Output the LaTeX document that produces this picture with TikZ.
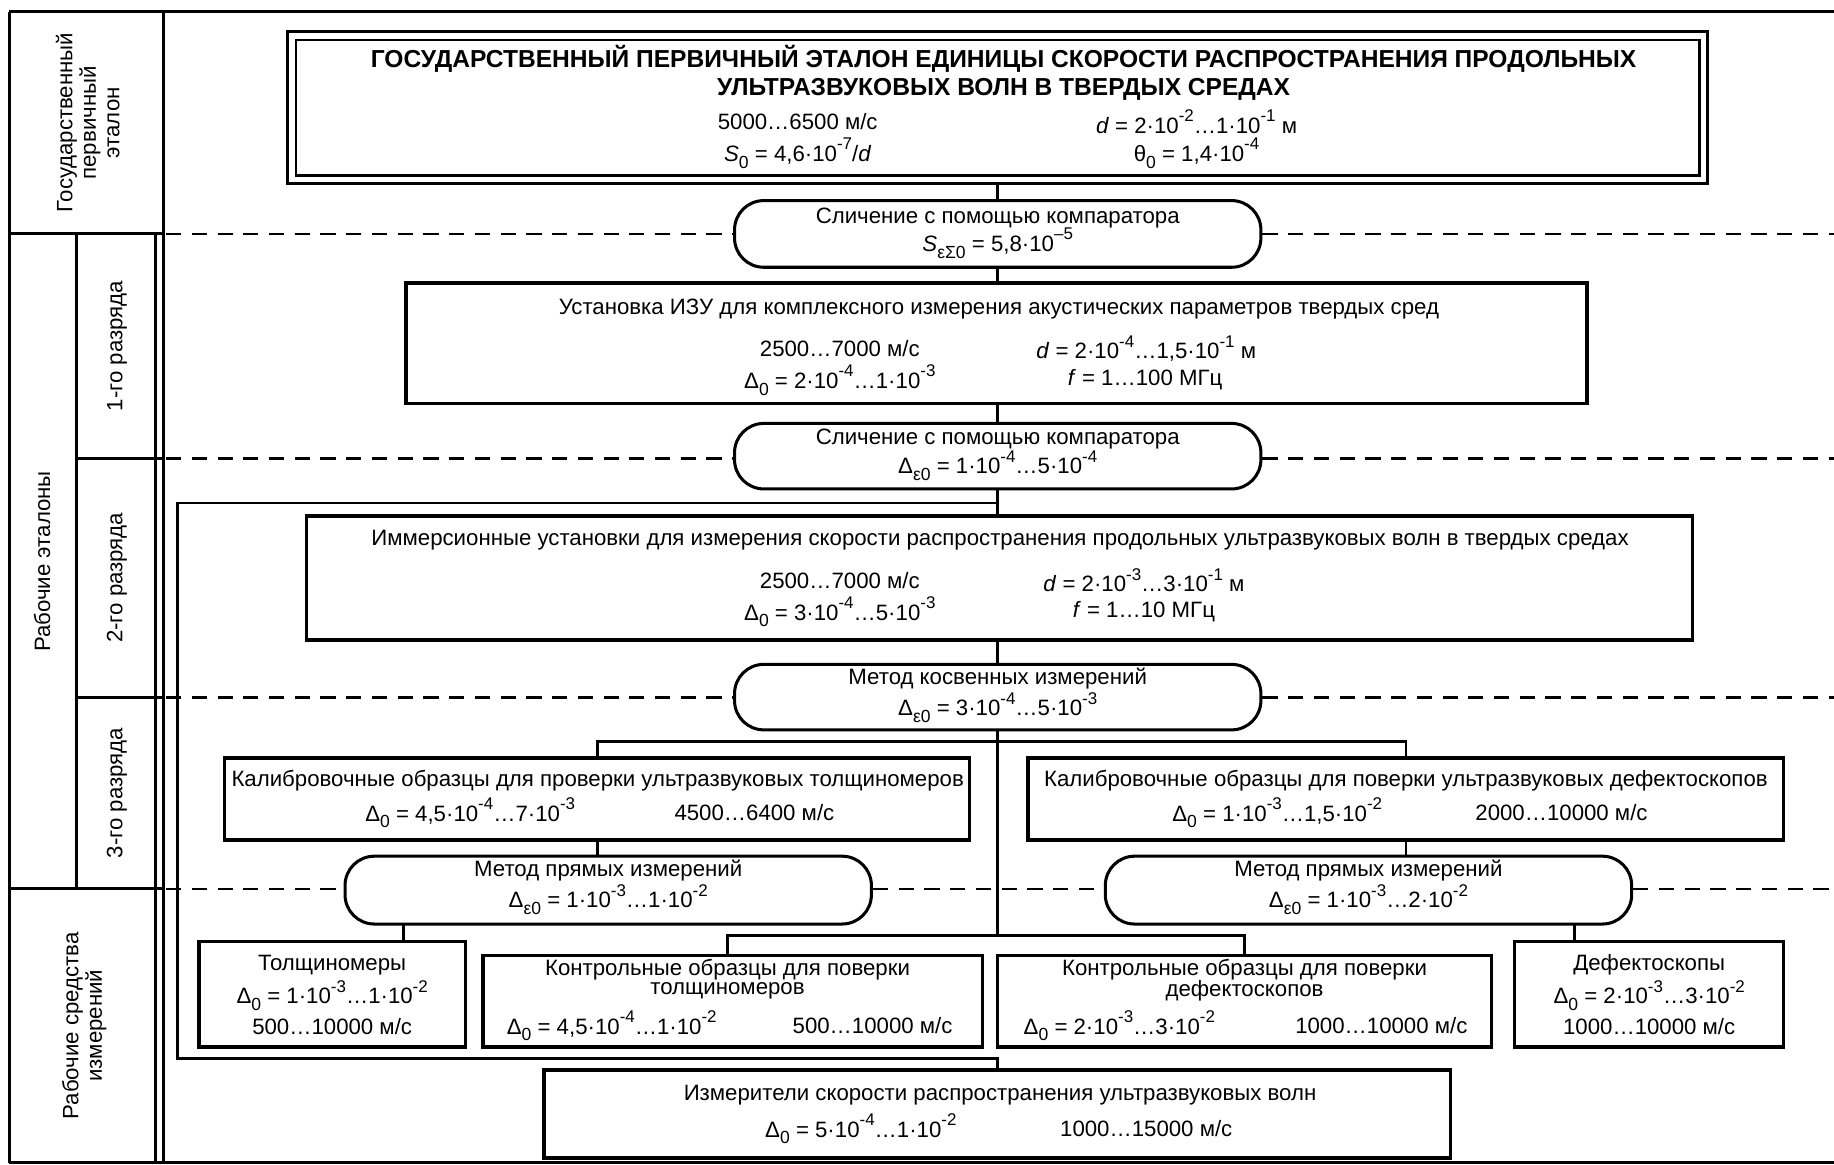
\documentclass[tikz,border=0pt]{standalone}
\usepackage{fontspec}
\setmainfont{Liberation Sans}
\newcommand{\supx}[1]{\raisebox{0.52em}{\fontsize{14.5}{14.5}\selectfont #1}}
\newcommand{\subx}[1]{\raisebox{-0.3em}{\fontsize{15}{15}\selectfont #1}}
\newcommand{\Dz}{Δ\subx{0}}
\newcommand{\Dez}{Δ\subx{ε0}}
\begin{document}
\begin{tikzpicture}[x=1pt,y=-1pt,
  frameline/.style={line width=2.6pt},
  boxst/.style={draw, line width=3pt, rectangle, inner sep=0pt},
  pillst/.style={draw, line width=2.6pt, rectangle, rounded corners=25pt, inner sep=0pt},
  conn/.style={line width=2.4pt},
  dashline/.style={line width=2.4pt, dash pattern=on 13pt off 9pt},
  txt/.style={inner sep=0pt, font=\fontsize{19}{23}\selectfont, align=center},
  ttl/.style={inner sep=0pt, font=\fontsize{21}{24}\selectfont\bfseries, align=center},
  side/.style={inner sep=0pt, rotate=90, font=\fontsize{19}{20}\selectfont, align=center},
]
\useasboundingbox (0,0) rectangle (1568,996);

% ---------- frame / left table ----------
\draw[frameline] (8,10) -- (1568,10);
\draw[frameline] (8,994) -- (1568,994);
\draw[frameline] (8,10) -- (8,994);
\draw[frameline] (140,10) -- (140,994);
\draw[frameline] (133,200) -- (133,994);
\draw[frameline] (8,200) -- (140,200);
\draw[frameline] (8,760) -- (140,760);
\draw[frameline] (65,200) -- (65,760);
\draw[frameline] (65,392) -- (140,392);
\draw[frameline] (65,596) -- (140,596);

\node[side] (lgpe) at (75,105) {Государственный\\первичный\\эталон};
\node[side] (lre) at (36,480) {Рабочие эталоны};
\node[side] (lr1) at (100,296) {1-го разряда};
\node[side] (lr2) at (100,494) {2-го разряда};
\node[side] (lr3) at (100,678) {3-го разряда};
\node[side] (lrsi) at (72,877) {Рабочие средства\\измерений};

% ---------- nodes ----------
\node[boxst, minimum width=1214pt, minimum height=130pt] (gpe) at (853,92) {};
\node[draw, line width=1.8pt, inner sep=0pt, minimum width=1200pt, minimum height=116pt] (gpein) at (853,92) {};
\node[ttl] (gpet) at (858,62) {ГОСУДАРСТВЕННЫЙ ПЕРВИЧНЫЙ ЭТАЛОН ЕДИНИЦЫ СКОРОСТИ РАСПРОСТРАНЕНИЯ ПРОДОЛЬНЫХ\\УЛЬТРАЗВУКОВЫХ ВОЛН В ТВЕРДЫХ СРЕДАХ};
\node[txt] (gv1) at (682,104) {5000…6500 м/с};
\node[txt] (gv2) at (682,131) {\textit{S}\subx{0} = 4,6·10\supx{-7}/\textit{d}};
\node[txt] (gv3) at (1023,104) {\textit{d} = 2·10\supx{-2}…1·10\supx{-1} м};
\node[txt] (gv4) at (1023,131) {θ\subx{0} = 1,4·10\supx{-4}};

\node[pillst, minimum width=450pt, minimum height=57pt] (cmp1) at (853,200) {};
\node[txt] (cmp1a) at (853,186) {Сличение с помощью компаратора};
\node[txt] (cmp1b) at (853,208) {\textit{S}\subx{εΣ0} = 5,8·10\supx{–5}};

\node[boxst, minimum width=1010pt, minimum height=103pt] (izu) at (852,293.5) {};
\node[txt] (izut) at (854,264) {Установка ИЗУ для комплексного измерения акустических параметров твердых сред};
\node[txt] (izu1) at (718,298) {2500…7000 м/с};
\node[txt] (izu2) at (718,325) {\Dz{} = 2·10\supx{-4}…1·10\supx{-3}};
\node[txt] (izu3) at (980,298) {\textit{d} = 2·10\supx{-4}…1,5·10\supx{-1} м};
\node[txt] (izu4) at (979,325) {\textit{f} = 1…100 МГц};

\node[pillst, minimum width=450pt, minimum height=56pt] (cmp2) at (853,390) {};
\node[txt] (cmp2a) at (853,375) {Сличение с помощью компаратора};
\node[txt] (cmp2b) at (853,398) {\Dez{} = 1·10\supx{-4}…5·10\supx{-4}};

\node[boxst, minimum width=1185pt, minimum height=106pt] (imm) at (854.5,494) {};
\node[txt] (immt) at (855,462) {Иммерсионные установки для измерения скорости распространения продольных ультразвуковых волн в твердых средах};
\node[txt] (imm1) at (718,496) {2500…7000 м/с};
\node[txt] (imm2) at (718,523) {\Dz{} = 3·10\supx{-4}…5·10\supx{-3}};
\node[txt] (imm3) at (978,496) {\textit{d} = 2·10\supx{-3}…3·10\supx{-1} м};
\node[txt] (imm4) at (978,523) {\textit{f} = 1…10 МГц};

\node[pillst, minimum width=450pt, minimum height=56pt] (kos) at (853,596) {};
\node[txt] (kosa) at (853,580) {Метод косвенных измерений};
\node[txt] (kosb) at (853,605) {\Dez{} = 3·10\supx{-4}…5·10\supx{-3}};

\node[boxst, minimum width=637pt, minimum height=70pt] (kalt) at (510.5,683) {};
\node[txt] (kaltt) at (511,667) {Калибровочные образцы для проверки ультразвуковых толщиномеров};
\node[txt] (kalt1) at (402,695) {\Dz{} = 4,5·10\supx{-4}…7·10\supx{-3}};
\node[txt] (kalt2) at (645,695) {4500…6400 м/с};

\node[boxst, minimum width=646pt, minimum height=70pt] (kald) at (1202,683) {};
\node[txt] (kaldt) at (1202,667) {Калибровочные образцы для поверки ультразвуковых дефектоскопов};
\node[txt] (kald1) at (1092,695) {\Dz{} = 1·10\supx{-3}…1,5·10\supx{-2}};
\node[txt] (kald2) at (1335,695) {2000…10000 м/с};

\node[pillst, minimum width=450pt, minimum height=58pt] (prt) at (520,761) {};
\node[txt] (prta) at (520,744) {Метод прямых измерений};
\node[txt] (prtb) at (520,769) {\Dez{} = 1·10\supx{-3}…1·10\supx{-2}};

\node[pillst, minimum width=450pt, minimum height=58pt] (prd) at (1170,761) {};
\node[txt] (prda) at (1170,744) {Метод прямых измерений};
\node[txt] (prdb) at (1170,769) {\Dez{} = 1·10\supx{-3}…2·10\supx{-2}};

\node[boxst, minimum width=228pt, minimum height=90pt] (tol) at (284,850) {};
\node[txt] (tola) at (284,825) {Толщиномеры};
\node[txt] (tolb) at (284,851) {\Dz{} = 1·10\supx{-3}…1·10\supx{-2}};
\node[txt] (tolc) at (284,878) {500…10000 м/с};

\node[boxst, minimum width=427pt, minimum height=78pt] (kot) at (626.5,856) {};
\node[txt] (kota) at (622,829) {Контрольные образцы для поверки};
\node[txt] (kotb) at (622,847) {толщиномеров};
\node[txt] (kotc) at (523,877) {\Dz{} = 4,5·10\supx{-4}…1·10\supx{-2}};
\node[txt] (kotd) at (746,877) {500…10000 м/с};

\node[boxst, minimum width=422pt, minimum height=78pt] (kod) at (1064,856) {};
\node[txt] (koda) at (1064,829) {Контрольные образцы для поверки};
\node[txt] (kodb) at (1064,847) {дефектоскопов};
\node[txt] (kodc) at (957,877) {\Dz{} = 2·10\supx{-3}…3·10\supx{-2}};
\node[txt] (kodd) at (1181,877) {1000…10000 м/с};

\node[boxst, minimum width=230pt, minimum height=90pt] (def) at (1410,850) {};
\node[txt] (defa) at (1410,825) {Дефектоскопы};
\node[txt] (defb) at (1410,851) {\Dz{} = 2·10\supx{-3}…3·10\supx{-2}};
\node[txt] (defc) at (1410,878) {1000…10000 м/с};

\node[boxst, minimum width=775pt, minimum height=75pt] (izm) at (852.5,952.5) {};
\node[txt] (izma) at (855,936) {Измерители скорости распространения ультразвуковых волн};
\node[txt] (izmb) at (736,965) {\Dz{} = 5·10\supx{-4}…1·10\supx{-2}};
\node[txt] (izmc) at (980,965) {1000…15000 м/с};

% ---------- coordinates ----------
\coordinate (b1) at (853,430);
\coordinate (b2) at (152,430);
\coordinate (b3) at (152,905);
\coordinate (b4) at (853,905);
\coordinate (j1) at (853,634);
\coordinate (j2) at (853,800);
\coordinate (p4a) at (345,790);
\coordinate (p5a) at (1346,790);

% ---------- connectors ----------
\draw[conn] (gpe.south) -- (cmp1.north);
\draw[conn] (cmp1.south) -- (cmp1.south |- izu.north);
\draw[conn] (izu.south -| cmp2.north) -- (cmp2.north);
\draw[conn] (cmp2.south) -- (cmp2.south |- imm.north);
\draw[conn] (b1) -- (b2) -- (b3) -- (b4) -- (b4 |- izm.north);
\draw[conn] (imm.south -| kos.north) -- (kos.north);
\draw[conn] (kos.south) -- (j1) -- (j2);
\draw[conn] (kalt.north) |- (j1) -| (kald.north);
\draw[conn] (kot.north -| 622,0) |- (j2) -| (kod.north);
\draw[conn] (kalt.south) -- (kalt.south |- prt.north);
\draw[conn] (kald.south) -- (kald.south |- prd.north);
\draw[conn] (p4a) -- (p4a |- tol.north);
\draw[conn] (p5a) -- (p5a |- def.north);

% ---------- dashed level lines ----------
\coordinate (d1l) at (142,200); \coordinate (d1r) at (1568,200);
\coordinate (d2l) at (142,392); \coordinate (d2r) at (1568,392);
\coordinate (d3l) at (142,596); \coordinate (d3r) at (1568,596);
\coordinate (d4l) at (142,760); \coordinate (d4r) at (1568,760);
\draw[dashline] (d1l) -- (cmp1.west);
\draw[dashline] (cmp1.east) -- (d1r);
\draw[dashline] (d2l) -- (d2l -| cmp2.west);
\draw[dashline] (d2r -| cmp2.east) -- (d2r);
\draw[dashline] (d3l) -- (kos.west);
\draw[dashline] (kos.east) -- (d3r);
\draw[dashline] (d4l) -- (d4l -| prt.west);
\draw[dashline] (d4l -| prt.east) -- (d4l -| prd.west);
\draw[dashline] (d4r -| prd.east) -- (d4r);
\end{tikzpicture}
\end{document}
